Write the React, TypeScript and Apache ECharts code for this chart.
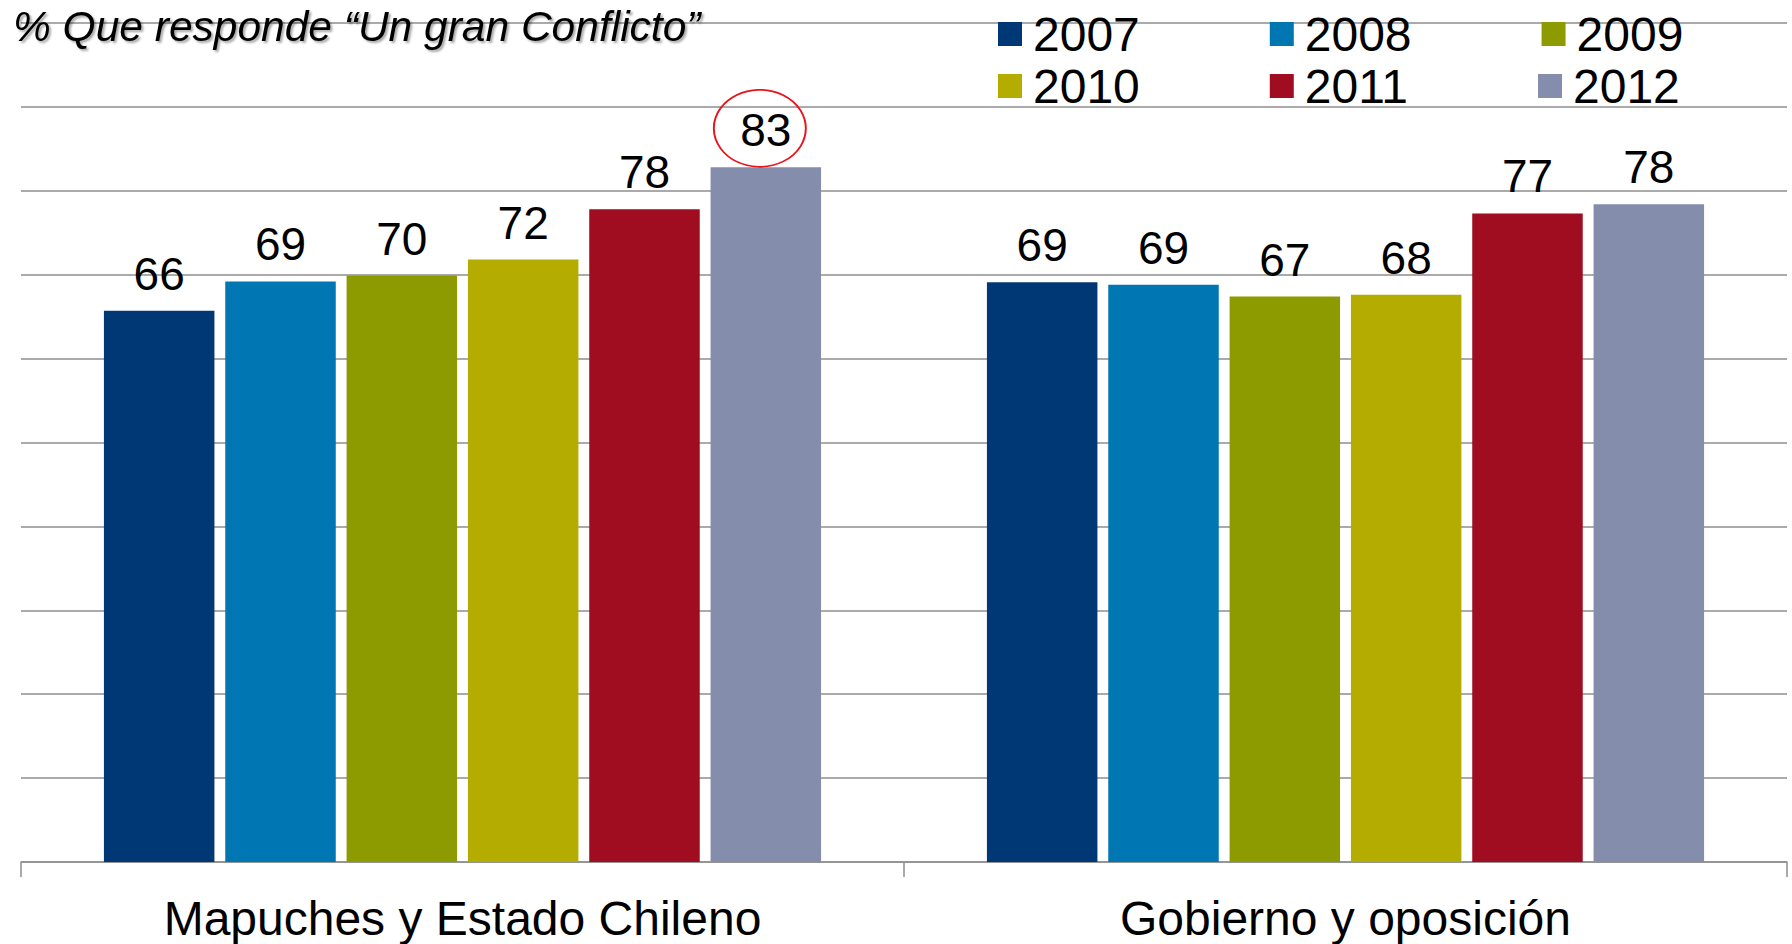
import React, { useEffect, useRef } from "react";
import * as echarts from "echarts";

const categories = ["Mapuches y Estado Chileno", "Gobierno y oposición"];
const years = ["2007", "2008", "2009", "2010", "2011", "2012"];
const v2007 = [65.7, 69.1];
const v2008 = [69.2, 68.8];
const v2009 = [69.9, 67.4];
const v2010 = [71.8, 67.6];
const v2011 = [77.8, 77.3];
const v2012 = [82.8, 78.4];
const seriesValues = [v2007, v2008, v2009, v2010, v2011, v2012];
const colors = ["#003876", "#0076B3", "#8E9B00", "#B4AD00", "#A00D20", "#858DAC"];
const titleText = "% Que responde “Un gran Conflicto”";
const highlighted = { category: categories[0], value: v2012[0], series: 5 };

const FONT = "'Liberation Sans', Arial, sans-serif";

export default function App() {
  const ref = useRef<HTMLDivElement>(null);
  useEffect(() => {
    document.body.style.margin = "0";
    const chart = echarts.init(ref.current!, null, { renderer: "svg" });
    const series = years.map((y, i) => ({
      name: y,
      type: "bar",
      data: seriesValues[i],
      barWidth: 110.5,
      barGap: "9.8%",
      itemStyle: { color: colors[i] },
      label: {
        show: true,
        position: "top",
        distance: 14,
        color: "#000",
        fontSize: 46,
        fontFamily: FONT,
        formatter: (p: any) => String(Math.round(p.value)),
      },
      markPoint:
        i === highlighted.series
          ? {
              symbol: "circle",
              symbolSize: [92, 77],
              symbolOffset: [-6, -39],
              silent: true,
              itemStyle: { color: "rgba(0,0,0,0)", borderColor: "#E8141B", borderWidth: 1.8 },
              label: { show: false },
              data: [{ coord: [highlighted.category, highlighted.value] }],
            }
          : undefined,
    }));
    const legendCommon = {
      orient: "horizontal",
      left: 998,
      itemWidth: 24,
      itemHeight: 24,
      itemGap: 130,
      padding: 0,
      icon: "rect",
      textStyle: { fontSize: 48, color: "#000", fontFamily: FONT, padding: [0, 0, 0, 6] },
    };
    chart.setOption({
      animation: false,
      backgroundColor: "#fff",
      title: {
        text: titleText,
        left: 13,
        top: 5,
        padding: 0,
        textStyle: {
          fontSize: 42.5,
          fontStyle: "italic",
          fontWeight: "normal",
          color: "#000",
          fontFamily: FONT,
          textShadowColor: "rgba(0,0,0,0.35)",
          textShadowBlur: 2,
          textShadowOffsetX: 2,
          textShadowOffsetY: 2,
        },
      },
      legend: [
        { ...legendCommon, top: 10, data: years.slice(0, 3) },
        { ...legendCommon, top: 62, data: years.slice(3, 6) },
      ],
      grid: { left: 21, right: 5, top: 23, bottom: 82, containLabel: false },
      xAxis: {
        type: "category",
        data: categories,
        axisLine: { lineStyle: { color: "#8e8e8e", width: 1.5 } },
        axisTick: { show: true, length: 15, lineStyle: { color: "#8e8e8e", width: 1.5 } },
        axisLabel: { fontSize: 48, color: "#000", fontFamily: FONT, margin: 32 },
      },
      yAxis: {
        type: "value",
        min: 0,
        max: 100,
        interval: 10,
        axisLabel: { show: false },
        axisLine: { show: false },
        axisTick: { show: false },
        splitLine: { lineStyle: { color: "#8e8e8e", width: 1.5 } },
      },
      series,
    });
    return () => chart.dispose();
  }, []);
  return <div ref={ref} style={{ width: 1792, height: 944 }} />;
}
